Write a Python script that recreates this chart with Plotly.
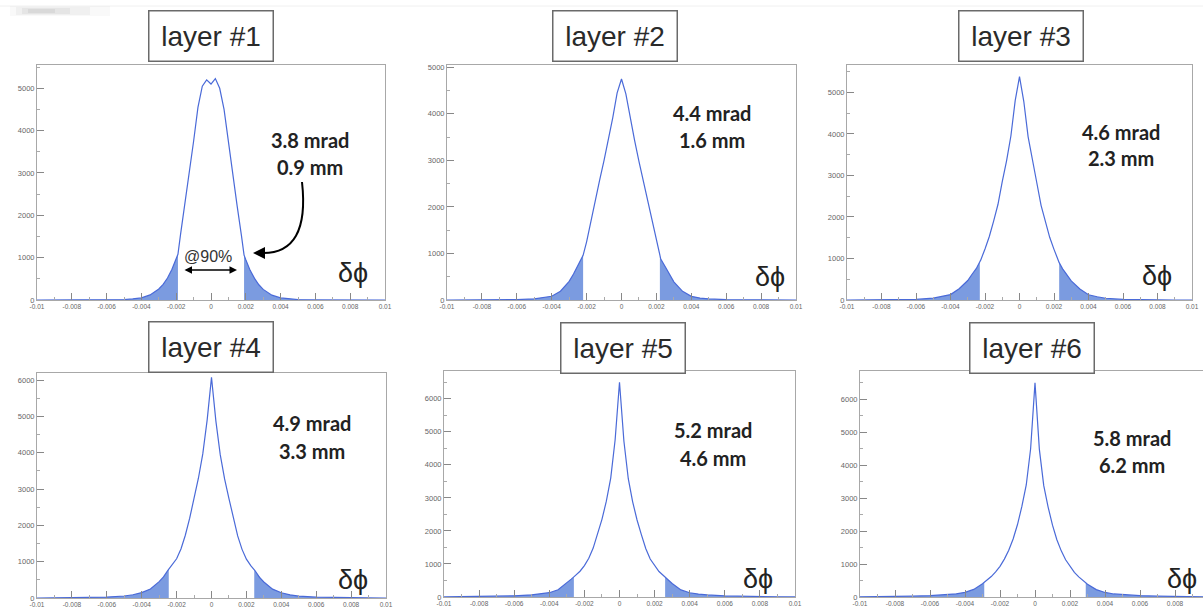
import plotly.graph_objects as go

W, H = 1203, 611

# ---------------- data ----------------
X_GRID = [-0.010, -0.009, -0.008, -0.007, -0.006, -0.005, -0.0045, -0.004, -0.0035, -0.003,
          -0.00275, -0.0025, -0.00225, -0.002, -0.00175, -0.0015, -0.00125, -0.001, -0.00075,
          -0.0005, -0.00025, 0.0, 0.00025, 0.0005, 0.00075, 0.001, 0.00125, 0.0015, 0.00175,
          0.002, 0.00225, 0.0025, 0.00275, 0.003, 0.0035, 0.004, 0.0045, 0.005, 0.006, 0.007,
          0.008, 0.009, 0.010]

LAYER1 = [0, 0, 0, 0, 2, 10, 25, 50, 120, 260, 370, 520, 720, 960, 1550, 2250, 3000, 3750, 4550,
          5050, 5200, 5100, 5230, 5000, 4500, 3700, 2950, 2230, 1520, 950, 700, 510, 360, 250,
          115, 50, 22, 9, 2, 0, 0, 0, 0]
LAYER2 = [0, 0, 0, 2, 8, 25, 45, 80, 190, 400, 560, 740, 900, 1250, 1720, 2150, 2580, 3000, 3450,
          3920, 4450, 4750, 4430, 3900, 3430, 2980, 2560, 2130, 1700, 1230, 880, 720, 550, 390,
          185, 78, 42, 24, 7, 2, 0, 0, 0]
LAYER3 = [0, 0, 2, 5, 15, 45, 80, 130, 270, 470, 620, 760, 960, 1230, 1530, 1900, 2300, 2850, 3350,
          3950, 4800, 5380, 4780, 3930, 3330, 2830, 2280, 1880, 1510, 1220, 950, 750, 610, 460,
          265, 125, 78, 42, 14, 5, 2, 0, 0]
LAYER4 = [0, 2, 5, 10, 25, 55, 90, 150, 250, 450, 580, 760, 900, 1080, 1350, 1730, 2200, 2760, 3300,
          3970, 4900, 6080, 4880, 3950, 3280, 2740, 2180, 1710, 1340, 1070, 890, 750, 570, 440,
          245, 145, 88, 52, 24, 10, 5, 2, 0]
LAYER5 = [2, 5, 10, 20, 35, 65, 90, 130, 220, 420, 540, 660, 780, 950, 1170, 1480, 1900, 2350, 2900,
          3600, 4750, 6500, 4720, 3580, 2880, 2330, 1880, 1460, 1150, 940, 770, 650, 530, 410,
          215, 128, 88, 62, 34, 19, 10, 5, 2]
LAYER6 = [5, 8, 15, 25, 40, 70, 95, 140, 230, 400, 500, 620, 760, 930, 1150, 1420, 1760, 2200, 2750,
          3400, 4500, 6500, 4480, 3380, 2730, 2180, 1740, 1400, 1130, 920, 750, 610, 490, 390,
          225, 138, 92, 68, 39, 24, 14, 8, 5]

LAYERS = [LAYER1, LAYER2, LAYER3, LAYER4, LAYER5, LAYER6]
TITLES = ["layer #1", "layer #2", "layer #3", "layer #4", "layer #5", "layer #6"]
MRAD = ["3.8 mrad", "4.4 mrad", "4.6 mrad", "4.9 mrad", "5.2 mrad", "5.8 mrad"]
MM = ["0.9 mm", "1.6 mm", "2.3 mm", "3.3 mm", "4.6 mm", "6.2 mm"]
CUTS = [0.0019, 0.0022, 0.0023, 0.00245, 0.0026, 0.0029]
CUT_H_LEFT = [1080, 960, 920, 790, 610, 440]
CUT_H_RIGHT = [1060, 940, 900, 780, 600, 430]
Y_MAX = [5550, 5050, 5660, 6200, 6840, 6860]
X_TICKS = [-0.01, -0.008, -0.006, -0.004, -0.002, 0, 0.002, 0.004, 0.006, 0.008, 0.01]
X_TICK_TEXT = ["-0.01", "-0.008", "-0.006", "-0.004", "-0.002", "0", "0.002", "0.004",
               "0.006", "0.008", "0.01"]
Y_TICKS = [0, 1000, 2000, 3000, 4000, 5000, 6000]

# ---------------- layout geometry (pixels) ----------------
PANELS = [  # left, right, top, bottom
    (37, 385, 65, 300),
    (447, 796, 65, 300),
    (847, 1192, 65, 300),
    (37, 386, 373, 598),
    (444, 795, 371, 597),
    (860, 1203, 371, 597),
]
X_RANGES = [[-0.01, 0.01]] * 5 + [[-0.01, 0.0096]]
TITLE_POS = [(210.5, 35.5), (615, 35.5), (1020.5, 35.5), (210.5, 347), (623, 348), (1032, 348)]
TEXT_POS = [(310, 140, 167), (712, 113, 140), (1121, 132, 158), (312, 423, 451),
            (713, 430, 458), (1132, 438, 465)]
DPHI_POS = [(353, 273), (770, 277), (1157, 276), (353, 580), (758, 579), (1182, 579)]

LINE_C = "#4a6ad8"
FILL_C = "#7b9be0"


def px(x):
    return x / W


def py(y):
    return 1 - y / H


fig = go.Figure()
annotations = []
shapes = []

for i in range(6):
    xa = "x" if i == 0 else f"x{i+1}"
    ya = "y" if i == 0 else f"y{i+1}"
    vals = LAYERS[i]
    cut = CUTS[i]

    # left tail
    lx = [x for x in X_GRID if x < -cut] + [-cut]
    ly = [v for x, v in zip(X_GRID, vals) if x < -cut] + [CUT_H_LEFT[i]]
    fig.add_trace(go.Scatter(x=lx, y=ly, mode="lines", fill="tozeroy", fillcolor=FILL_C,
                             line=dict(width=0, color=FILL_C), xaxis=xa, yaxis=ya,
                             showlegend=False, hoverinfo="skip"))
    # right tail
    rx = [cut] + [x for x in X_GRID if x > cut]
    ry = [CUT_H_RIGHT[i]] + [v for x, v in zip(X_GRID, vals) if x > cut]
    fig.add_trace(go.Scatter(x=rx, y=ry, mode="lines", fill="tozeroy", fillcolor=FILL_C,
                             line=dict(width=0, color=FILL_C), xaxis=xa, yaxis=ya,
                             showlegend=False, hoverinfo="skip"))
    # main curve (grid points plus cut points)
    pts = list(zip(X_GRID, vals)) + [(-cut, CUT_H_LEFT[i]), (cut, CUT_H_RIGHT[i])]
    pts.sort()
    fig.add_trace(go.Scatter(x=[p[0] for p in pts], y=[p[1] for p in pts], mode="lines",
                             line=dict(width=1.2, color=LINE_C), xaxis=xa, yaxis=ya,
                             showlegend=False))

    l, r, t, b = PANELS[i]
    axis_common = dict(showline=True, mirror=True, linecolor="#a8a8a8", linewidth=1,
                       showgrid=False, zeroline=False, ticks="inside", ticklen=7,
                       automargin=False, tickcolor="#888",
                       minor=dict(ticks="inside", ticklen=3, tickcolor="#aaa"))
    fig.layout[f"xaxis{'' if i == 0 else i+1}"] = dict(
        domain=[px(l), px(r)], range=X_RANGES[i], anchor=ya,
        tickmode="array", tickvals=X_TICKS, ticktext=X_TICK_TEXT,
        tickfont=dict(family="Liberation Sans", size=6.5, color="#666"), **axis_common)
    fig.layout[f"yaxis{'' if i == 0 else i+1}"] = dict(
        domain=[py(b), py(t)], range=[0, Y_MAX[i]], anchor=xa,
        tickmode="array", tickvals=Y_TICKS, ticktext=[str(v) for v in Y_TICKS],
        tickfont=dict(family="Liberation Sans", size=7.5, color="#666"), **axis_common)

    # title box
    tx, ty = TITLE_POS[i]
    annotations.append(dict(x=px(tx), y=py(ty), xref="paper", yref="paper", text=TITLES[i],
                            showarrow=False, xanchor="center", yanchor="middle",
                            font=dict(family="Liberation Sans", size=28, color="#2a2a2a"),
                            bgcolor="white", bordercolor="#6a6a6a", borderwidth=1.5,
                            borderpad=2, width=119, height=45))
    # resolution labels
    cx, y1, y2 = TEXT_POS[i]
    for txt, yy in ((MRAD[i], y1), (MM[i], y2)):
        annotations.append(dict(x=px(cx), y=py(yy), xref="paper", yref="paper",
                                text=f"<b>{txt}</b>", showarrow=False, xanchor="center",
                                yanchor="middle",
                                font=dict(family="Lato", size=20, color="#222")))
    dx, dy = DPHI_POS[i]
    annotations.append(dict(x=px(dx), y=py(dy), xref="paper", yref="paper", text="δϕ",
                            showarrow=False, xanchor="center", yanchor="middle",
                            font=dict(family="Liberation Sans", size=27, color="#222")))

# layer #1 decorations: curved arrow, @90% and double arrow
shapes.append(dict(type="path", xref="paper", yref="paper",
                   path=f"M {px(302)},{py(182)} Q {px(310)},{py(254)} {px(262)},{py(253)}",
                   line=dict(color="black", width=2)))
annotations.append(dict(x=px(253), y=py(253), xref="paper", yref="paper", text="",
                        showarrow=True, ax=12, ay=0, arrowhead=2, arrowsize=1.2,
                        arrowwidth=2, arrowcolor="black"))
annotations.append(dict(x=px(208), y=py(257), xref="paper", yref="paper", text="@90%",
                        showarrow=False, xanchor="center", yanchor="middle",
                        font=dict(family="Liberation Sans", size=16, color="#333")))
annotations.append(dict(x=px(237), y=py(270), xref="paper", yref="paper", text="",
                        showarrow=True, ax=-54, ay=0, arrowside="end+start", arrowhead=2,
                        arrowsize=1, arrowwidth=1.5, arrowcolor="black"))

# faint slide artefacts at the top edge (soft shadow)
shapes.append(dict(type="line", xref="paper", yref="paper", x0=0, x1=1, y0=py(6), y1=py(6),
                   line=dict(color="#f0f0f0", width=1), layer="below"))
for (x0, x1, y0, y1, a) in [(10, 110, 16, 6, 0.025), (16, 90, 15, 7, 0.035),
                            (22, 70, 14, 8, 0.045), (28, 55, 13, 9, 0.05)]:
    shapes.append(dict(type="rect", xref="paper", yref="paper", x0=px(x0), x1=px(x1),
                       y0=py(y0), y1=py(y1), fillcolor=f"rgba(0,0,0,{a})",
                       line=dict(width=0), layer="below"))

fig.update_layout(width=W, height=H, autosize=False,
                  margin=dict(l=0, r=0, t=0, b=0, pad=0, autoexpand=False),
                  paper_bgcolor="white", plot_bgcolor="white",
                  annotations=annotations, shapes=shapes, showlegend=False)

fig.write_html("out.html", config={"displayModeBar": False},
               post_script="document.body.style.margin='0';document.body.style.overflow='hidden';")
